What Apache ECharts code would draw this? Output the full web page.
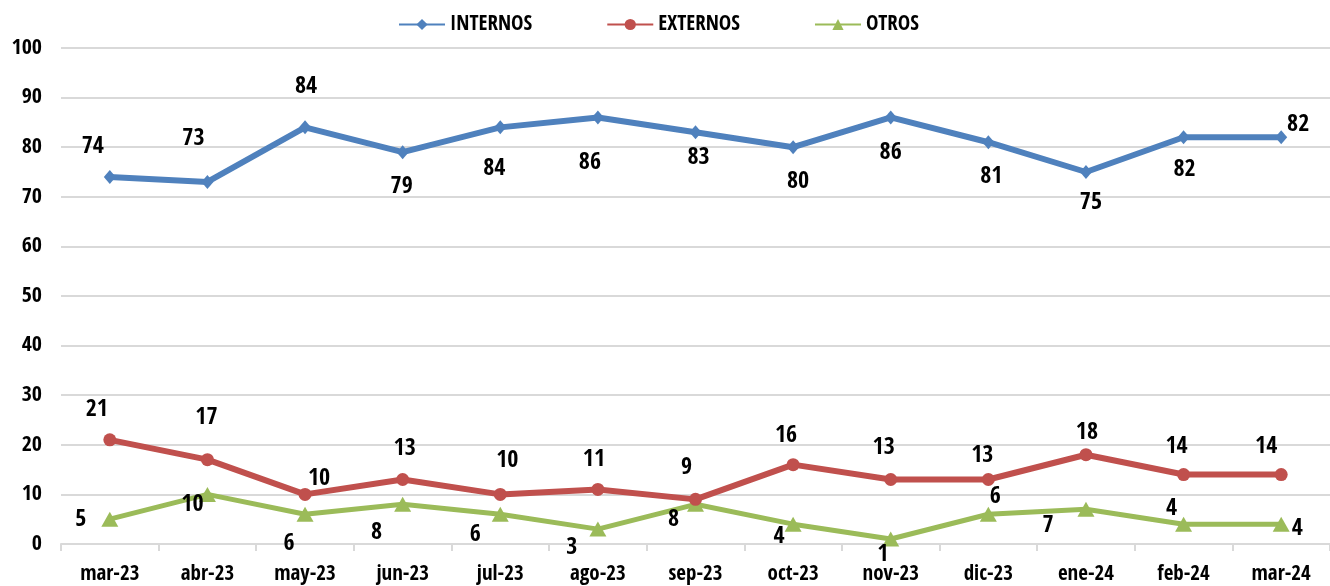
<!DOCTYPE html>
<html>
<head>
<meta charset="utf-8">
<script src="https://cdn.jsdelivr.net/npm/echarts@6/dist/echarts.min.js"></script>
<style>
html,body{margin:0;padding:0;background:#fff;}
#chart{width:1330px;height:586px;}
</style>
</head>
<body>
<div id="chart"></div>
<script>
const categories = ['mar-23','abr-23','may-23','jun-23','jul-23','ago-23','sep-23','oct-23','nov-23','dic-23','ene-24','feb-24','mar-24'];
const internos = [74,73,84,79,84,86,83,80,86,81,75,82,82];
const externos = [21,17,10,13,10,11,9,16,13,13,18,14,14];
const otros = [5,10,6,8,6,3,8,4,1,6,7,4,4];
const seriesNames = ['INTERNOS','EXTERNOS','OTROS'];

// label offsets (styling only), relative to each point
const offInternos = [[-17,-30],[-14,-43],[1,-41],[-1,35],[-6,41],[-8,45],[3,25],[5,35],[0,35],[3,34],[5,31],[1,32],[17,-13]];
const offExternos = [[-13,-30],[-1,-42],[14,-16],[2,-31],[7,-34],[-4,-30],[-9,-32],[-7,-29],[-7,-32],[-6,-24],[1,-22],[-7,-28],[-15,-28]];
const offOtros = [[-29,1],[-15,10],[-16,29],[-26,28],[-25,20],[-26,19],[-22,15],[-14,13],[-8,16],[7,-18],[-38,16],[-12,-15],[16,5]];

const FONT = '"Open Sans Condensed", "Roboto Condensed", sans-serif';

function buildData(values, offs) {
  return values.map((v, i) => ({
    value: v,
    label: { offset: offs[i] }
  }));
}

const labelBase = {
  show: true,
  position: 'inside',
  align: 'center',
  verticalAlign: 'middle',
  color: '#000',
  fontFamily: FONT,
  fontWeight: 'bold',
  fontSize: 24
};

const chart = echarts.init(document.getElementById('chart'), null, {renderer: 'canvas'});
chart.setOption({
  animation: false,
  backgroundColor: '#fff',
  grid: { left: 61, right: -7, top: 48, bottom: 42, containLabel: false },
  legend: {
    top: 14,
    left: 398,
    padding: 0,
    itemWidth: 46,
    itemHeight: 14,
    itemGap: 74,
    textStyle: { fontFamily: FONT, fontWeight: 'bold', fontSize: 21, color: '#000' },
    data: seriesNames
  },
  xAxis: {
    type: 'category',
    data: categories,
    boundaryGap: true,
    axisLine: { show: true, lineStyle: { color: '#d9d9d9', width: 2 } },
    axisTick: { show: true, length: 7, lineStyle: { color: '#d9d9d9', width: 2 } },
    axisLabel: { fontFamily: FONT, fontWeight: 'bold', fontSize: 21, color: '#000', margin: 20 },
    splitLine: { show: false }
  },
  yAxis: {
    type: 'value',
    min: 0, max: 100, interval: 10,
    axisLine: { show: false },
    axisTick: { show: false },
    axisLabel: { fontFamily: FONT, fontWeight: 'bold', fontSize: 22, color: '#000', margin: 19 },
    splitLine: { lineStyle: { color: '#d9d9d9', width: 2 } }
  },
  series: [
    {
      name: seriesNames[0], type: 'line',
      data: buildData(internos, offInternos),
      symbol: 'diamond', symbolSize: [12, 14],
      lineStyle: { color: '#4f81bd', width: 6 },
      itemStyle: { color: '#4f81bd' },
      label: labelBase, z: 3
    },
    {
      name: seriesNames[1], type: 'line',
      data: buildData(externos, offExternos),
      symbol: 'circle', symbolSize: 13,
      lineStyle: { color: '#c0504d', width: 6 },
      itemStyle: { color: '#c0504d' },
      label: labelBase, z: 2
    },
    {
      name: seriesNames[2], type: 'line',
      data: buildData(otros, offOtros),
      symbol: 'triangle', symbolSize: [17, 15],
      lineStyle: { color: '#9bbb59', width: 5 },
      itemStyle: { color: '#9bbb59' },
      label: labelBase, z: 1
    }
  ]
});
</script>
</body>
</html>
